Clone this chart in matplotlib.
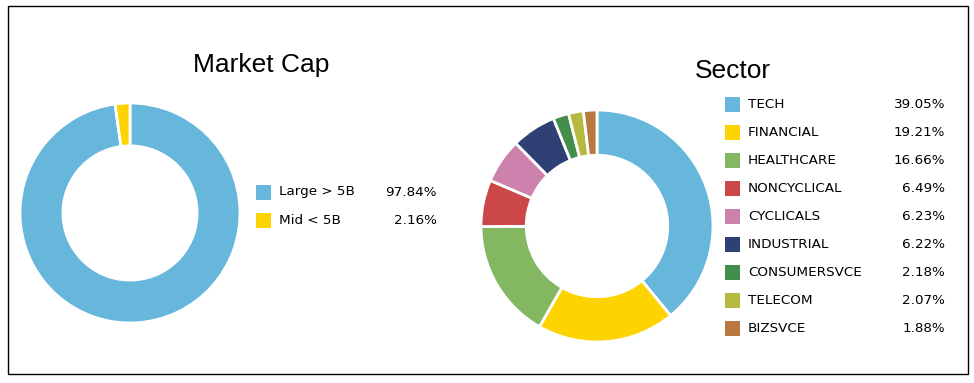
import matplotlib.pyplot as plt
from matplotlib.patches import Rectangle

W, H = 974, 383

CAP_LABELS = ['Large > 5B', 'Mid < 5B']
CAP_VALUES = [97.84, 2.16]
CAP_COLOURS = ['#67b7dc', '#fdd400']

SECTOR_LABELS = ['TECH', 'FINANCIAL', 'HEALTHCARE', 'NONCYCLICAL', 'CYCLICALS',
                 'INDUSTRIAL', 'CONSUMERSVCE', 'TELECOM', 'BIZSVCE']
SECTOR_VALUES = [39.05, 19.21, 16.66, 6.49, 6.23, 6.22, 2.18, 2.07, 1.88]
SECTOR_COLOURS = ['#67b7dc', '#fdd400', '#84b761', '#cc4748', '#cd82ad',
                  '#2f4074', '#448e4d', '#b7b83f', '#b9783f']

LEGEND_FONT = 9.7
TITLE_FONT = 19


def px_axes(fig, cx, cy, r):
    # axes box in pixel coordinates (origin top-left)
    return fig.add_axes([(cx - r) / W, 1 - (cy + r) / H, 2 * r / W, 2 * r / H])


def donut(ax, values, colours, inner_ratio):
    ax.pie(values, colors=colours, startangle=90, counterclock=False,
           radius=1.0, wedgeprops=dict(width=1.0 - inner_ratio, edgecolor='white', linewidth=2))
    ax.set_xlim(-1.0, 1.0)
    ax.set_ylim(-1.0, 1.0)
    ax.set_aspect('equal')
    ax.axis('off')


def legend(ax, labels, values, colours, x0, y0, step, value_x):
    for i, (label, value, colour) in enumerate(zip(labels, values, colours)):
        y = y0 + i * step
        ax.add_patch(Rectangle((x0, y - 7.5), 15, 15, facecolor=colour, edgecolor='none'))
        ax.text(x0 + 23, y, label, fontsize=LEGEND_FONT, va='center', ha='left', color='#000000')
        ax.text(value_x, y, f'{value:.2f}%', fontsize=LEGEND_FONT, va='center', ha='right', color='#000000')


fig = plt.figure(figsize=(W / 100, H / 100), dpi=100)

overlay = fig.add_axes([0, 0, 1, 1])
overlay.set_xlim(0, W)
overlay.set_ylim(H, 0)
overlay.axis('off')
overlay.add_patch(Rectangle((7.5, 5.5), 960, 368, facecolor='none', edgecolor='#000000', linewidth=1))

ax_cap = px_axes(fig, 130, 213, 110)
donut(ax_cap, CAP_VALUES, CAP_COLOURS, 0.61)

ax_sector = px_axes(fig, 597, 226, 116)
donut(ax_sector, SECTOR_VALUES, SECTOR_COLOURS, 0.61)

overlay.text(261, 72, 'Market Cap', fontsize=TITLE_FONT, family='Liberation Sans', ha='center', va='baseline')
overlay.text(733, 78, 'Sector', fontsize=TITLE_FONT, family='Liberation Sans', ha='center', va='baseline')

legend(overlay, CAP_LABELS, CAP_VALUES, CAP_COLOURS, 256, 192, 28.5, 437)
legend(overlay, SECTOR_LABELS, SECTOR_VALUES, SECTOR_COLOURS, 725, 104.5, 28, 945)

fig.savefig('out.png', dpi=100, facecolor='white')
